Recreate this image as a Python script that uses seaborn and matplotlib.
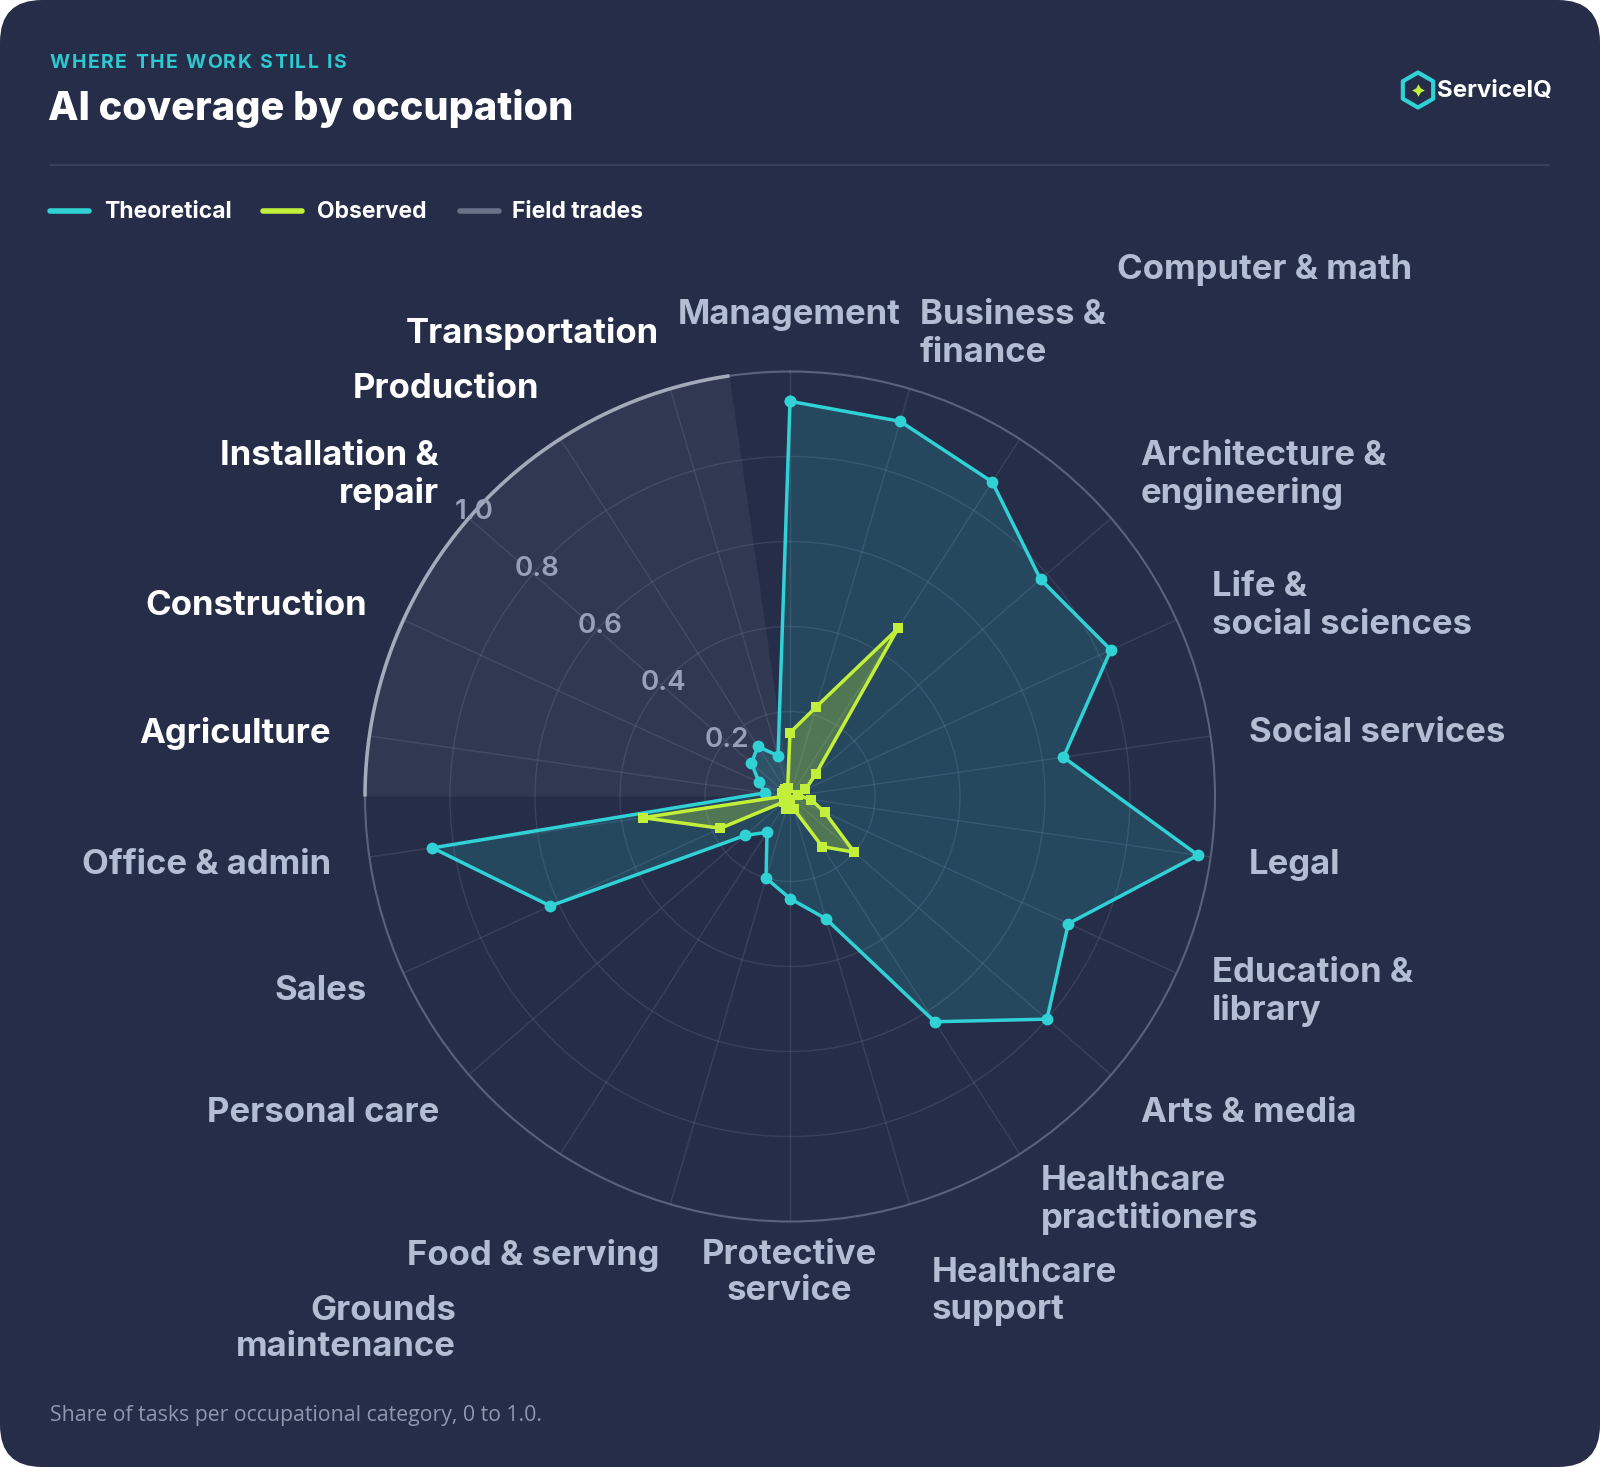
import numpy as np
import pandas as pd
import matplotlib
matplotlib.use("Agg")
import matplotlib.pyplot as plt
import seaborn as sns
from matplotlib.patches import FancyBboxPatch, RegularPolygon
from matplotlib.lines import Line2D

# ---------------- data ----------------
categories = ["Management", "Business &\nfinance", "Computer & math",
              "Architecture &\nengineering", "Life &\nsocial sciences",
              "Social services", "Legal", "Education &\nlibrary", "Arts & media",
              "Healthcare\npractitioners", "Healthcare\nsupport", "Protective\nservice",
              "Food & serving", "Grounds\nmaintenance", "Personal care", "Sales",
              "Office & admin", "Agriculture", "Construction", "Installation &\nrepair",
              "Production", "Transportation"]
theoretical = [0.93, 0.92, 0.88, 0.78, 0.83, 0.65, 0.97, 0.72, 0.80, 0.63, 0.30,
               0.24, 0.20, 0.10, 0.14, 0.62, 0.85, 0.06, 0.08, 0.12, 0.14, 0.10]
observed = [0.15, 0.22, 0.47, 0.08, 0.04, 0.02, 0.05, 0.09, 0.20, 0.14, 0.03,
            0.02, 0.03, 0.01, 0.02, 0.18, 0.35, 0.01, 0.02, 0.02, 0.02, 0.02]
field_trades = ["Agriculture", "Construction", "Installation &\nrepair",
                "Production", "Transportation"]
radial_ticks = [0.2, 0.4, 0.6, 0.8, 1.0]
radial_labels = ["0.2", "0.4", "0.6", "0.8", "1.0"]
legend_labels = ["Theoretical", "Observed", "Field trades"]

# ---------------- style ----------------
BG = "#252d48"
TEAL = "#30d2d6"
LIME = "#c2f03a"
GRAYSW = "#6a7288"
LABEL = "#b3bdd3"
TICK = "#97a1b7"
WHITE = "#ffffff"

sns.set_theme(style="dark", rc={"axes.facecolor": "none", "figure.facecolor": "white"})
plt.rcParams["font.family"] = ["Inter", "DejaVu Sans"]

W, H = 1600, 1467
fig = plt.figure(figsize=(W / 100, H / 100), dpi=100)
fig.patch.set_facecolor("white")
card = FancyBboxPatch((0, 0), W / 100, H / 100, boxstyle="round,pad=0,rounding_size=0.42",
                      transform=fig.dpi_scale_trans, facecolor=BG, edgecolor="none",
                      zorder=-10)
fig.patches.append(card)


def fx(px):
    return px / W


def fy(py):
    return 1 - py / H


# ---------------- header ----------------
renderer = fig.canvas.get_renderer()


def tracked_text(x_px, y_px, s, size, color, weight, track_px):
    x = x_px
    for ch in s:
        if ch == " ":
            x += size * 100 / 72 * 0.26 + track_px
            continue
        t = fig.text(fx(x), fy(y_px), ch, fontsize=size, color=color, fontweight=weight,
                     ha="left", va="center")
        bb = t.get_window_extent(renderer=renderer)
        x += bb.width + track_px


tracked_text(50, 63, "WHERE THE WORK STILL IS", 14, "#2ec8d0", "bold", 1.5)
fig.text(fx(48), fy(108), "AI coverage by occupation", fontsize=28.6, fontweight="heavy",
         color=WHITE, ha="left", va="center")
fig.add_artist(Line2D([fx(50), fx(1549)], [fy(165), fy(165)], color="#3a4361", lw=1.2))

# logo
lax = fig.add_axes([fx(1395), fy(113), 46 / W, 46 / H])
lax.set_xlim(0, 46)
lax.set_ylim(0, 46)
lax.set_axis_off()
lax.add_patch(RegularPolygon((23, 23), numVertices=6, radius=17.5, orientation=0,
                             facecolor="none", edgecolor=TEAL, lw=3.0, joinstyle="round"))
lax.plot([23], [23], marker=(4, 1, 0), markersize=9, color=LIME, markeredgewidth=0)
fig.text(fx(1437), fy(91), "ServiceIQ", fontsize=17.3, fontweight="bold", color=WHITE,
         ha="left", va="center")

# legend
legend_colors = [TEAL, LIME, GRAYSW]
legend_sw = [(50, 89, 104), (263, 302, 317), (460, 499, 512)]
for lab, col, (x0, x1, xt) in zip(legend_labels, legend_colors, legend_sw):
    fig.add_artist(Line2D([fx(x0), fx(x1)], [fy(211), fy(211)], color=col, lw=4,
                          solid_capstyle="round"))
    fig.text(fx(xt), fy(212), lab, fontsize=16.5, fontweight="bold", color=WHITE,
             ha="left", va="center")

# ---------------- radar ----------------
cx, cy, R = 790, 796.5, 425
ax = fig.add_axes([fx(cx - R), fy(cy + R), 2 * R / W, 2 * R / H], projection="polar")
ax.set_theta_zero_location("N")
ax.set_theta_direction(-1)
ax.set_facecolor("none")

n = len(categories)
step = 2 * np.pi / n
angles = np.arange(n) * step

# field trades sector
ft_idx = [categories.index(c) for c in field_trades]
ft_center = angles[ft_idx].mean()
ft_width = len(ft_idx) * step
ax.bar(ft_center, 1.0, width=ft_width, bottom=0, color="#ffffff", alpha=0.06,
       edgecolor="none", zorder=0.5)
arc = np.linspace(ft_center - ft_width / 2, ft_center + ft_width / 2, 200)
ax.plot(arc, np.ones_like(arc), color="#a2aabb", lw=2.6, zorder=3, clip_on=False,
        solid_capstyle="butt")

theta_c = np.append(angles, angles[0])
df = pd.DataFrame({
    "theta": np.concatenate([theta_c, theta_c]),
    "value": np.concatenate([np.append(theoretical, theoretical[0]),
                             np.append(observed, observed[0])]),
    "series": ["Theoretical"] * (n + 1) + ["Observed"] * (n + 1),
})

dt = df[df.series == "Theoretical"]
do = df[df.series == "Observed"]
ax.fill(dt.theta, dt.value, color=TEAL, alpha=0.17, lw=0, zorder=2)
ax.fill(do.theta, do.value, color=LIME, alpha=0.28, lw=0, zorder=2.5)
sns.lineplot(data=dt, x="theta", y="value", ax=ax, sort=False, estimator=None,
             color=TEAL, lw=2.5, marker="o", markersize=8.5, markeredgewidth=0, zorder=4)
sns.lineplot(data=do, x="theta", y="value", ax=ax, sort=False, estimator=None,
             color=LIME, lw=2.5, marker="s", markersize=7.5, markeredgewidth=0, zorder=5)

ax.set_xlabel("")
ax.set_ylabel("")
ax.set_xticks(angles)
ax.set_xticklabels([])
ax.set_yticks(radial_ticks)
ax.set_yticklabels([])
ax.set_ylim(0, 1)
ax.grid(True, color="#9aa5bd", alpha=0.17, lw=1.0)
ax.spines["polar"].set_color("#59627a")
ax.spines["polar"].set_linewidth(1.5)
ax.tick_params(pad=0, length=0)

rl_angle = np.deg2rad(312)
for t, s in zip(radial_ticks, radial_labels):
    ax.text(rl_angle, t, s, ha="center", va="center", color=TICK, fontsize=20,
            fontweight="semibold", zorder=6)

# category labels (layout positions in pixels)
label_pos = {
    "Management": (789, 315, "center"),
    "Business &\nfinance": (920, 334, "left"),
    "Computer & math": (1117, 270, "left"),
    "Architecture &\nengineering": (1141, 475, "left"),
    "Life &\nsocial sciences": (1212, 606, "left"),
    "Social services": (1249, 733, "left"),
    "Legal": (1249, 865, "left"),
    "Education &\nlibrary": (1212, 992, "left"),
    "Arts & media": (1141, 1113, "left"),
    "Healthcare\npractitioners": (1041, 1200, "left"),
    "Healthcare\nsupport": (932, 1292, "left"),
    "Protective\nservice": (789, 1273, "center"),
    "Food & serving": (659, 1255, "right"),
    "Grounds\nmaintenance": (456, 1329, "right"),
    "Personal care": (439, 1113, "right"),
    "Sales": (367, 991, "right"),
    "Office & admin": (331, 865, "right"),
    "Agriculture": (331, 733, "right"),
    "Construction": (367, 606, "right"),
    "Installation &\nrepair": (439, 475, "right"),
    "Production": (539, 389, "right"),
    "Transportation": (659, 334, "right"),
}
for c in categories:
    x, y, ha = label_pos[c]
    col = WHITE if c in field_trades else LABEL
    fig.text(fx(x), fy(y), c, fontsize=25, fontweight="bold", color=col, ha=ha,
             va="center", multialignment=ha, linespacing=1.2)

# footnote
fig.text(fx(50), fy(1416), "Share of tasks per occupational category, 0 to 1.0.",
         fontsize=15.3, color="#8e98ae", ha="left", va="center",
         family=["Open Sans", "DejaVu Sans"])

fig.savefig("out.png", dpi=100, facecolor=fig.get_facecolor())
